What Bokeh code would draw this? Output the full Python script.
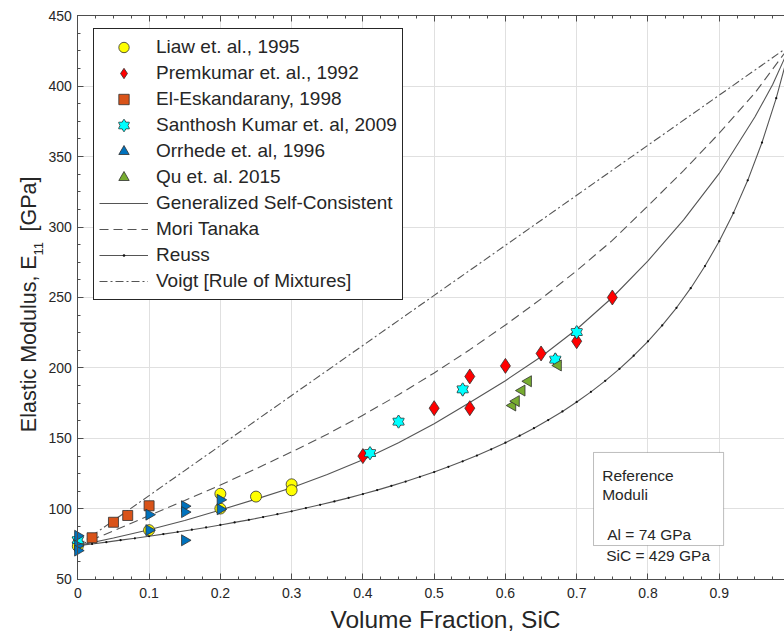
from math import pi
from bokeh.plotting import figure
from bokeh.models import (Range1d, LinearAxis, SingleIntervalTicker, Legend, LegendItem,
                          Label, BoxAnnotation, CustomJSTickFormatter)
from bokeh.embed import file_html
from bokeh.resources import INLINE

# ---------------- data ----------------
liaw_x = [0.0, 0.1, 0.2, 0.2, 0.25, 0.3, 0.3]
liaw_y = [73.6, 85.0, 110.8, 100.3, 108.8, 117.5, 113.3]

prem_x = [0.4, 0.5, 0.55, 0.55, 0.6, 0.65, 0.7, 0.75]
prem_y = [137.5, 171.5, 171.5, 194.0, 201.5, 210.3, 219.0, 250.0]

elesk_x = [0.02, 0.05, 0.07, 0.1]
elesk_y = [79.6, 90.6, 95.4, 102.3]

sant_x = [0.0, 0.41, 0.45, 0.54, 0.67, 0.7]
sant_y = [78.0, 139.6, 162.0, 184.8, 206.0, 225.4]

orr_x = [0.0, 0.0, 0.0, 0.1, 0.1, 0.15, 0.15, 0.15, 0.2, 0.2]
orr_y = [81.0, 74.0, 70.5, 96.0, 85.0, 102.0, 97.8, 77.8, 106.5, 99.8]

qu_x = [0.61, 0.615, 0.623, 0.632, 0.674]
qu_y = [173.4, 176.5, 184.0, 190.6, 201.8]

gsc_x = [0.0, 0.05, 0.1, 0.15, 0.2, 0.25, 0.3, 0.35, 0.4, 0.45, 0.5, 0.55, 0.6,
         0.65, 0.7, 0.75, 0.8, 0.85, 0.9, 0.95, 0.975, 1.0]
gsc_y = [74.0, 79.4, 85.3, 91.9, 99.3, 107.0, 115.0, 124.5, 135.0, 147.0, 160.5, 175.5,
         191.0, 208.0, 227.5, 250.0, 276.0, 305.0, 338.0, 378.0, 401.0, 429.0]

mt_x = [0.0, 0.05, 0.1, 0.15, 0.2, 0.25, 0.3, 0.35, 0.4, 0.45, 0.5, 0.55, 0.6,
        0.65, 0.7, 0.75, 0.8, 0.85, 0.9, 0.95, 1.0]
mt_y = [74.0, 84.5, 95.4, 106.0, 117.0, 128.5, 140.5, 153.0, 166.5, 181.0, 196.5, 213.0,
        230.5, 249.0, 269.0, 290.5, 315.0, 340.0, 366.5, 395.0, 429.0]

reuss_x = [0.0, 0.02, 0.04, 0.06, 0.08, 0.1, 0.12, 0.14, 0.16, 0.18, 0.2, 0.22, 0.24,
           0.26, 0.28, 0.3, 0.32, 0.34, 0.36, 0.38, 0.4, 0.42, 0.44, 0.46, 0.48, 0.5,
           0.52, 0.54, 0.56, 0.58, 0.6, 0.62, 0.64, 0.66, 0.68, 0.7, 0.72, 0.74, 0.76,
           0.78, 0.8, 0.82, 0.84, 0.86, 0.88, 0.9, 0.92, 0.94, 0.96, 0.98, 1.0]
reuss_y = [74.0, 75.2, 76.5, 77.9, 79.2, 80.7, 82.2, 83.7, 85.3, 86.9, 88.7, 90.5, 92.3,
           94.3, 96.3, 98.4, 100.7, 103.0, 105.4, 107.9, 110.6, 113.4, 116.4, 119.5, 122.8,
           126.2, 129.9, 133.8, 137.9, 142.3, 147.0, 152.0, 157.3, 163.1, 169.2, 175.9,
           183.1, 190.9, 199.4, 208.7, 218.9, 230.2, 242.7, 256.6, 272.3, 289.9, 310.0,
           333.1, 359.9, 391.4, 429.0]

voigt_x = [0.0, 0.1, 0.2, 0.3, 0.4, 0.5, 0.6, 0.7, 0.8, 0.9, 1.0]
voigt_y = [74.0, 109.5, 145.0, 180.5, 216.0, 251.5, 287.0, 322.5, 358.0, 393.5, 429.0]

series_labels = ["Liaw et. al., 1995", "Premkumar et. al., 1992", "El-Eskandarany, 1998",
                 "Santhosh Kumar et. al, 2009", "Orrhede et. al, 1996", "Qu et. al. 2015",
                 "Generalized Self-Consistent", "Mori Tanaka", "Reuss",
                 "Voigt [Rule of Mixtures]"]

X_MIN, X_MAX = 0.0, 1.0
Y_MIN, Y_MAX = 50, 450

# ---------------- styling ----------------
FONT = "Liberation Sans"
TXT = "#262626"
AXC = "#4d4d4d"
LINEC = "#555555"
EDGE = "#303030"

# frame covers the whole canvas; the axes sit at fixed data locations
p = figure(width=790, height=634, output_backend="svg", toolbar_location=None,
           x_range=Range1d(-0.1085, 1.0), y_range=Range1d(10.99, 460.64),
           min_border_left=0, min_border_right=0, min_border_top=0, min_border_bottom=0,
           background_fill_color="white", border_fill_color="white")
p.outline_line_color = None

xt = SingleIntervalTicker(interval=0.1, num_minor_ticks=4)
yt = SingleIntervalTicker(interval=50, num_minor_ticks=4)


def style_axis(ax):
    ax.axis_line_color = AXC
    ax.axis_line_width = 1
    ax.major_tick_line_color = AXC
    ax.minor_tick_line_color = AXC
    ax.major_tick_in = 6
    ax.major_tick_out = 0
    ax.minor_tick_in = 3
    ax.minor_tick_out = 0
    ax.major_label_text_font = FONT
    ax.major_label_text_font_size = "14px"
    ax.major_label_text_color = TXT


xb = p.xaxis[0]
yl = p.yaxis[0]
xb.ticker = xt
yl.ticker = yt
xb.fixed_location = Y_MIN
yl.fixed_location = X_MIN
xb.bounds = (X_MIN, X_MAX)
yl.bounds = (Y_MIN, Y_MAX)
# the "1" label falls outside the visible window in the reference
xb.formatter = CustomJSTickFormatter(
    code="return tick > 0.99 ? '' : String(Math.round(tick * 10) / 10);")
style_axis(xb)
style_axis(yl)
xb.major_label_standoff = 9
yl.major_label_standoff = 6

empty = CustomJSTickFormatter(code="return '';")
xtop = LinearAxis(ticker=xt, formatter=empty, major_label_standoff=0,
                  bounds=(X_MIN, X_MAX), fixed_location=Y_MAX)
yright = LinearAxis(ticker=yt, formatter=empty, major_label_standoff=0,
                    bounds=(Y_MIN, Y_MAX), fixed_location=X_MAX)
style_axis(xtop)
style_axis(yright)
p.add_layout(xtop, "above")
p.add_layout(yright, "right")

p.xgrid.ticker = xt
p.ygrid.ticker = yt
p.xgrid.bounds = (X_MIN, X_MAX)
p.ygrid.bounds = (Y_MIN, Y_MAX)
p.xgrid.cross_bounds = (Y_MIN, Y_MAX)
p.ygrid.cross_bounds = (X_MIN, X_MAX)
p.xgrid.grid_line_color = "#e0e0e0"
p.ygrid.grid_line_color = "#e0e0e0"
p.xgrid.grid_line_width = 1
p.ygrid.grid_line_width = 1

# ---------------- model curves ----------------
r_voigt = p.line(voigt_x, voigt_y, line_color=LINEC, line_width=1.1, line_dash="8 3 2 3")
r_mt = p.line(mt_x, mt_y, line_color=LINEC, line_width=1.1, line_dash="9 5")
r_gsc = p.line(gsc_x, gsc_y, line_color=LINEC, line_width=1.1)
r_reuss = p.line(reuss_x, reuss_y, line_color=LINEC, line_width=1.1)
r_reuss_d = p.scatter(reuss_x, reuss_y, marker="dot", size=9, line_color="#111111",
                      fill_color="#111111")

# ---------------- experimental data ----------------
mk = dict(line_color=EDGE, line_width=0.8)
r_liaw = p.scatter(liaw_x, liaw_y, marker="circle", size=11, fill_color="#FFFF00", **mk)
r_prem = p.scatter(prem_x, prem_y, marker="diamond", size=15, fill_color="#FF0000", **mk)
r_elesk = p.scatter(elesk_x, elesk_y, marker="square", size=10, fill_color="#D95319", **mk)
r_s1 = p.scatter(sant_x, sant_y, marker="triangle", size=11, fill_color="#00FFFF",
                 line_color=EDGE, line_width=1.4)
r_s2 = p.scatter(sant_x, sant_y, marker="inverted_triangle", size=11, fill_color="#00FFFF",
                 line_color=EDGE, line_width=1.4)
r_s3 = p.scatter(sant_x, sant_y, marker="triangle", size=11, fill_color="#00FFFF",
                 line_color=None)
r_s4 = p.scatter(sant_x, sant_y, marker="inverted_triangle", size=11, fill_color="#00FFFF",
                 line_color=None)
r_orr = p.scatter(orr_x, orr_y, marker="triangle", size=11, angle=-pi / 2,
                  fill_color="#0072BD", **mk)
r_qu = p.scatter(qu_x, qu_y, marker="triangle", size=11, angle=pi / 2,
                 fill_color="#77AC30", **mk)

# ---------------- legend ----------------
items = [
    LegendItem(label=series_labels[0], renderers=[r_liaw]),
    LegendItem(label=series_labels[1], renderers=[r_prem]),
    LegendItem(label=series_labels[2], renderers=[r_elesk]),
    LegendItem(label=series_labels[3], renderers=[r_s1, r_s2, r_s3, r_s4]),
    LegendItem(label=series_labels[4], renderers=[r_orr]),
    LegendItem(label=series_labels[5], renderers=[r_qu]),
    LegendItem(label=series_labels[6], renderers=[r_gsc]),
    LegendItem(label=series_labels[7], renderers=[r_mt]),
    LegendItem(label=series_labels[8], renderers=[r_reuss, r_reuss_d]),
    LegendItem(label=series_labels[9], renderers=[r_voigt]),
]
legend = Legend(items=items, location=(93, 334), padding=5, spacing=0,
                glyph_width=49, glyph_height=26, label_height=26, label_standoff=8,
                label_text_font=FONT, label_text_font_size="19px", label_text_color=TXT,
                border_line_color=TXT, border_line_width=1, border_line_alpha=1,
                background_fill_color="white", background_fill_alpha=1)
p.add_layout(legend)

# ---------------- reference moduli box ----------------
p.add_layout(BoxAnnotation(left=0.7236, right=0.9061, bottom=74.1, top=140.1,
                           fill_color="white", fill_alpha=1, line_color=TXT, line_width=1))
box_lines = [("Reference", 0.7358, 124.1), ("Moduli", 0.7358, 110.3),
             ("Al = 74 GPa", 0.7428, 81.7), ("SiC = 429 GPa", 0.7414, 67.0)]
for t, bx, by in box_lines:
    p.add_layout(Label(x=bx, y=by, text=t, text_font=FONT, text_font_size="15.5px",
                       text_color=TXT, text_baseline="alphabetic", text_align="left"))

# ---------------- axis titles ----------------
p.add_layout(Label(x=0.5159, y=21.6, text="Volume Fraction, SiC", text_font=FONT,
                   text_font_size="24.5px", text_color=TXT, text_align="center",
                   text_baseline="middle"))
p.add_layout(Label(x=-0.06875, y=154.5, text="Elastic Modulus, E", angle=pi / 2,
                   text_font=FONT, text_font_size="21.5px", text_color=TXT,
                   text_align="left", text_baseline="alphabetic"))
p.add_layout(Label(x=-0.05556, y=279.8, text="11", angle=pi / 2,
                   text_font=FONT, text_font_size="13px", text_color=TXT,
                   text_align="left", text_baseline="alphabetic"))
p.add_layout(Label(x=-0.06875, y=296.8, text="[GPa]", angle=pi / 2,
                   text_font=FONT, text_font_size="21.5px", text_color=TXT,
                   text_align="left", text_baseline="alphabetic"))

html = file_html(p, INLINE)
html = html.replace("<head>", "<head><style>html, body {overflow: hidden;}</style>", 1)
open("out.html", "w").write(html)
